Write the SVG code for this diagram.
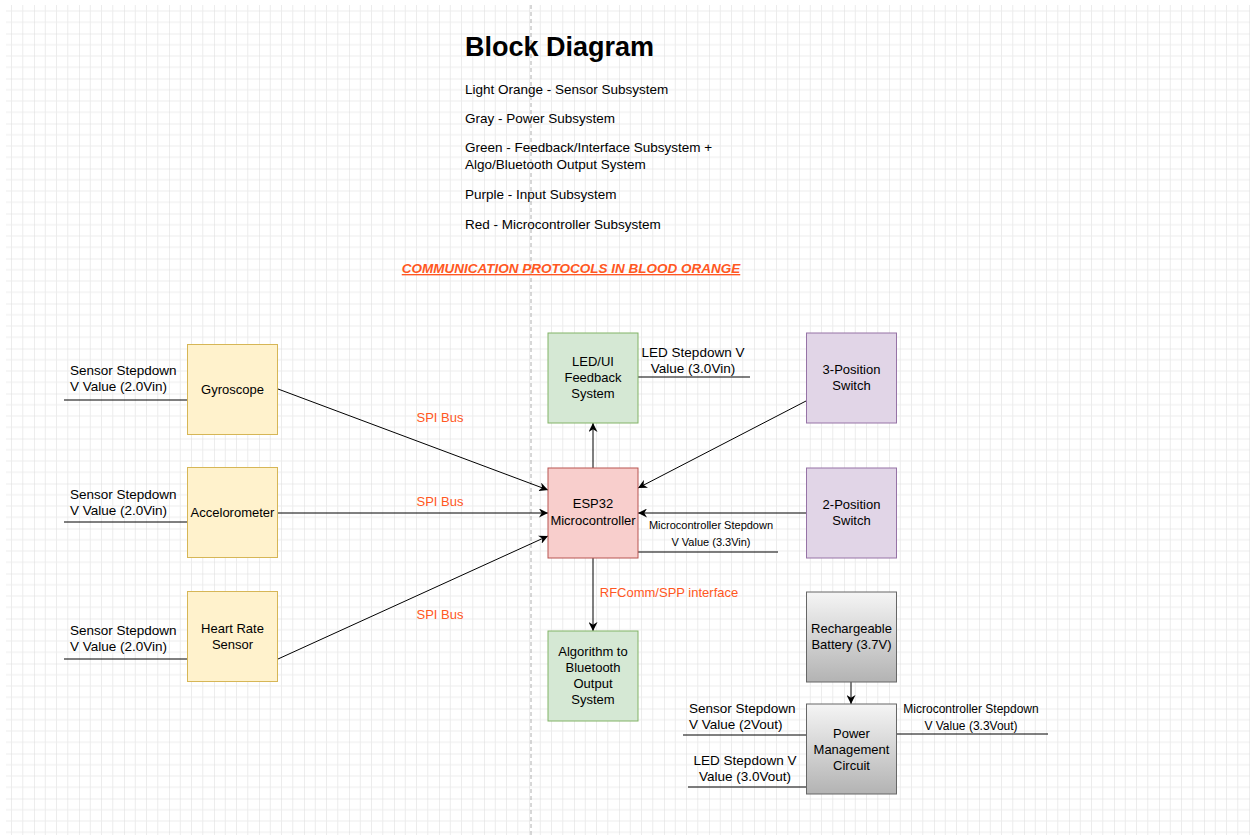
<svg xmlns="http://www.w3.org/2000/svg" width="1250" height="838" viewBox="0 0 1250 838">
<style>
text{font-family:"Liberation Sans",Arial,sans-serif;fill:#000;}
.n{font-size:13px;text-anchor:middle;}
.m{font-size:13.5px;text-anchor:middle;}
.l{font-size:13.5px;}
.s{font-size:11px;text-anchor:middle;}
.o{font-size:13px;fill:#ff5722;text-anchor:middle;}
.ln{stroke:#000;stroke-width:1;fill:none;}
.ar{stroke:#000;stroke-width:1;fill:none;marker-end:url(#arr);}
.y{fill:#fff2cc;stroke:#d6b656;}
.g{fill:#d5e8d4;stroke:#82b366;}
.r{fill:#f8cecc;stroke:#b85450;}
.p{fill:#e1d5e7;stroke:#9673a6;}
.k{fill:url(#gray);stroke:#666;}
</style>
<defs>
<pattern id="grid" patternUnits="userSpaceOnUse" x="34" y="33.5" width="45" height="45">
<path d="M11.25 0V45M22.5 0V45M33.75 0V45M0 11.25H45M0 22.5H45M0 33.75H45" stroke="#ececec" stroke-width="1" fill="none"/>
<path d="M0 0V45M0 0H45" stroke="#dcdcdc" stroke-width="1" fill="none"/>
</pattern>
<linearGradient id="gray" x1="0" y1="0" x2="0" y2="1">
<stop offset="0" stop-color="#f5f5f5"/>
<stop offset="1" stop-color="#b3b3b3"/>
</linearGradient>
<marker id="arr" viewBox="0 0 10 10" refX="10" refY="5" markerWidth="9" markerHeight="9" markerUnits="userSpaceOnUse" orient="auto">
<path d="M0,0 L10,5 L0,10 L3,5 z" fill="#000"/>
</marker>
</defs>
<rect width="1250" height="838" fill="#fff"/>
<rect x="6" y="5" width="1244" height="830" fill="url(#grid)"/>
<line x1="531" y1="5" x2="531" y2="838" stroke="#b0b0b0" stroke-dasharray="4,3"/>

<g id="title">
<text x="465" y="56" style="font-size:27px;font-weight:bold">Block Diagram</text>
<text class="l" x="465" y="94">Light Orange - Sensor Subsystem</text>
<text class="l" x="465" y="123">Gray - Power Subsystem</text>
<text class="l" x="465" y="152">Green - Feedback/Interface Subsystem +</text>
<text class="l" x="465" y="169">Algo/Bluetooth Output System</text>
<text class="l" x="465" y="199">Purple - Input Subsystem</text>
<text class="l" x="465" y="229">Red - Microcontroller Subsystem</text>
<text class="o" x="571" y="273" style="font-size:13.5px;font-weight:bold;font-style:italic;text-decoration:underline">COMMUNICATION PROTOCOLS IN BLOOD ORANGE</text>
</g>

<g id="connectors">
<line class="ar" x1="278" y1="389" x2="548" y2="490"/>
<line class="ar" x1="278" y1="513" x2="548" y2="513"/>
<line class="ar" x1="278" y1="659" x2="548" y2="536"/>
<line class="ar" x1="593" y1="468" x2="593" y2="423"/>
<line class="ar" x1="593" y1="558" x2="593" y2="631"/>
<line class="ar" x1="806" y1="401" x2="638" y2="488"/>
<line class="ar" x1="806" y1="513" x2="638" y2="513"/>
<line class="ar" x1="851" y1="682" x2="851" y2="704"/>
<line class="ln" x1="64" y1="400" x2="187" y2="400"/>
<line class="ln" x1="64" y1="522" x2="187" y2="522"/>
<line class="ln" x1="64" y1="659" x2="187" y2="659"/>
<line class="ln" x1="638" y1="377" x2="750" y2="377"/>
<line class="ln" x1="638" y1="552" x2="778" y2="552"/>
<line class="ln" x1="683" y1="735" x2="806" y2="735"/>
<line class="ln" x1="688" y1="787" x2="806" y2="787"/>
<line class="ln" x1="896" y1="734" x2="1048" y2="734"/>
<text class="o" x="440" y="422">SPI Bus</text>
<text class="o" x="440" y="506">SPI Bus</text>
<text class="o" x="440" y="619">SPI Bus</text>
<text class="o" x="669" y="597">RFComm/SPP interface</text>
<text class="l" x="70" y="375">Sensor Stepdown</text>
<text class="l" x="70" y="391">V Value (2.0Vin)</text>
<text class="l" x="70" y="499">Sensor Stepdown</text>
<text class="l" x="70" y="515">V Value (2.0Vin)</text>
<text class="l" x="70" y="635">Sensor Stepdown</text>
<text class="l" x="70" y="651">V Value (2.0Vin)</text>
<text class="m" x="693" y="357">LED Stepdown V</text>
<text class="m" x="693" y="373">Value (3.0Vin)</text>
<text class="s" x="711" y="529">Microcontroller Stepdown</text>
<text class="s" x="711" y="546">V Value (3.3Vin)</text>
<text class="l" x="689" y="713">Sensor Stepdown</text>
<text class="l" x="689" y="729">V Value (2Vout)</text>
<text class="m" x="745" y="765">LED Stepdown V</text>
<text class="m" x="745" y="781">Value (3.0Vout)</text>
<text class="n" x="971" y="713" style="font-size:12px">Microcontroller Stepdown</text>
<text class="n" x="971" y="730" style="font-size:12px">V Value (3.3Vout)</text>
</g>

<g id="gyroscope"><rect class="y" x="187.5" y="344.5" width="90" height="90"/><text class="n" x="232.5" y="394">Gyroscope</text></g>
<g id="accelerometer"><rect class="y" x="187.5" y="467.5" width="90" height="90"/><text class="n" x="232.5" y="517">Accelorometer</text></g>
<g id="heartrate"><rect class="y" x="187.5" y="591.5" width="90" height="90"/><text class="n" x="232.5" y="633">Heart Rate</text><text class="n" x="232.5" y="649">Sensor</text></g>
<g id="led"><rect class="g" x="548" y="333" width="90" height="90"/><text class="n" x="593" y="366">LED/UI</text><text class="n" x="593" y="382">Feedback</text><text class="n" x="593" y="398">System</text></g>
<g id="esp32"><rect class="r" x="548" y="468" width="90" height="90"/><text class="n" x="593" y="508">ESP32</text><text class="n" x="593" y="525">Microcontroller</text></g>
<g id="algorithm"><rect class="g" x="548" y="631" width="90" height="90"/><text class="n" x="593" y="656">Algorithm to</text><text class="n" x="593" y="672">Bluetooth</text><text class="n" x="593" y="688">Output</text><text class="n" x="593" y="704">System</text></g>
<g id="switch3"><rect class="p" x="806.5" y="333" width="90" height="90"/><text class="n" x="851.5" y="374">3-Position</text><text class="n" x="851.5" y="390">Switch</text></g>
<g id="switch2"><rect class="p" x="806.5" y="468" width="90" height="90"/><text class="n" x="851.5" y="509">2-Position</text><text class="n" x="851.5" y="525">Switch</text></g>
<g id="battery"><rect class="k" x="806.5" y="592" width="90" height="90"/><text class="n" x="851.5" y="633">Rechargeable</text><text class="n" x="851.5" y="649">Battery (3.7V)</text></g>
<g id="power"><rect class="k" x="806.5" y="704" width="90" height="90"/><text class="n" x="851.5" y="738">Power</text><text class="n" x="851.5" y="754">Management</text><text class="n" x="851.5" y="770">Circuit</text></g>
</svg>
